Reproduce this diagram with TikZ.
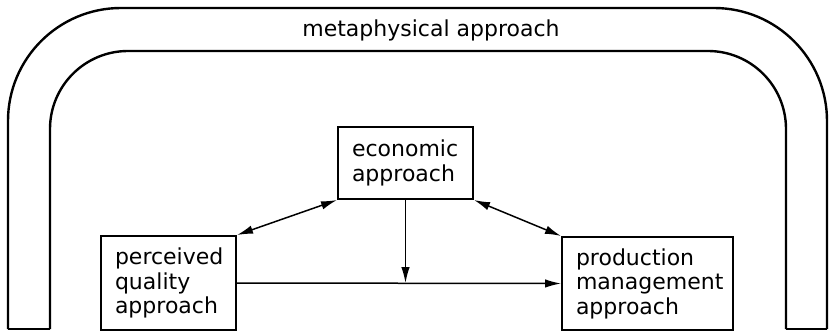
\documentclass[tikz,border=0pt]{standalone}
\usepackage{fontspec}
\setmainfont{DejaVu Sans}
\usetikzlibrary{arrows.meta}
\begin{document}
\begin{tikzpicture}[x=1pt,y=-1pt,
  arch/.style={line width=2.4pt},
  stagebox/.style={draw, line width=2pt, anchor=north west, align=left,
    inner xsep=14pt, inner ysep=0pt, font=\fontsize{22}{24.5}\selectfont},
  tip/.tip={Latex[length=16pt,width=8.5pt]},
  link/.style={line width=1.5pt, -tip},
  duallink/.style={line width=1.5pt, tip-tip},
  label/.style={font=\fontsize{22}{24}\selectfont}]
  \useasboundingbox (0,0) rectangle (829,331);

  % the surrounding arch
  \draw[arch, rounded corners=113pt] (8,329) -- (8,8) -- (827,8) -- (827,329);
  \draw[arch, rounded corners=78pt] (50,329) -- (50,51) -- (786,51) -- (786,329);
  \draw[line width=1.2pt] (8,329) -- (50,329);
  \draw[line width=1.2pt] (786,329) -- (827,329);
  \node[label, anchor=base] (meta) at (431,37) {metaphysical approach};

  % the three approaches
  \node[stagebox, text width=107pt, minimum height=72pt] (eco) at (337,126)
    {economic\\approach};
  \node[stagebox, text width=107pt, minimum height=94pt] (pq) at (100,235)
    {perceived\\quality\\approach};
  \node[stagebox, text width=143pt, minimum height=93pt] (pm) at (561,236)
    {production\\management\\approach};

  % links between them
  \draw[duallink] (pq.north east) -- (eco.south west);
  \draw[duallink] (eco.south east) -- (pm.north west);
  \draw[link] (pq.east) -- (pm.west);
  \coordinate (meet) at (eco.south |- pq.east);
  \draw[link] (eco.south) -- (meet);
\end{tikzpicture}
\end{document}
